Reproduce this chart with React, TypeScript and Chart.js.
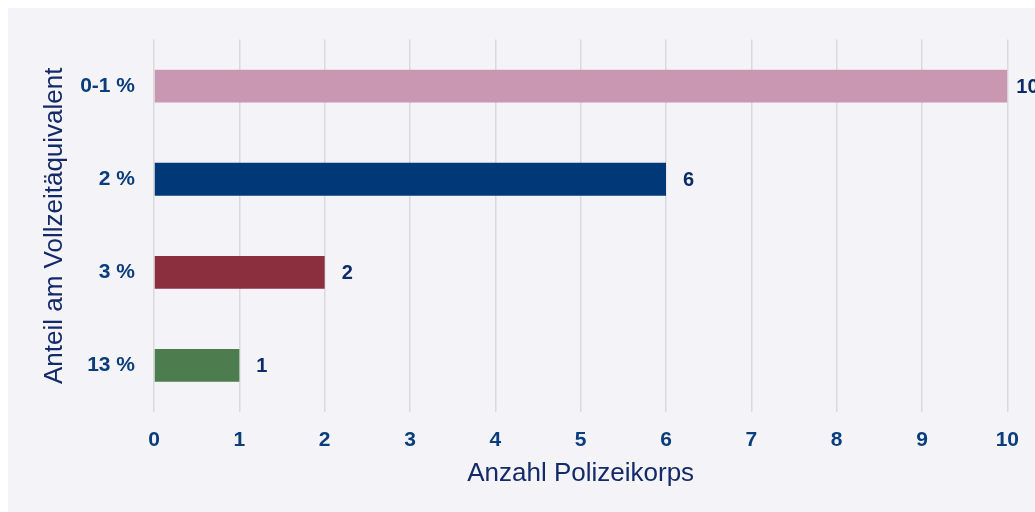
import React, { useEffect, useRef } from "react";
import { Chart, registerables } from "chart.js";

Chart.register(...registerables);

const categories = ["0-1 %", "2 %", "3 %", "13 %"];
const values = [10, 6, 2, 1];
const barColors = ["#c997b1", "#003878", "#8b2e3e", "#4d7c4e"];
const xTicks = [0, 1, 2, 3, 4, 5, 6, 7, 8, 9, 10];
const xTitle = "Anzahl Polizeikorps";
const yTitle = "Anteil am Vollzeitäquivalent";

const FONT = "'Liberation Sans', Arial, Helvetica, sans-serif";
const TICK_COLOR = "#0a3d7e";
const TITLE_COLOR = "#14296a";
const LABEL_COLOR = "#0d2b6b";

const valueLabels = {
  id: "valueLabels",
  afterDatasetsDraw(chart: any) {
    const ctx = chart.ctx;
    const meta = chart.getDatasetMeta(0);
    const right = chart.chartArea.right;
    ctx.save();
    ctx.font = `bold 20px ${FONT}`;
    ctx.fillStyle = LABEL_COLOR;
    ctx.textAlign = "left";
    ctx.textBaseline = "middle";
    meta.data.forEach((el: any, i: number) => {
      const x = Math.min(el.x + 17, right + 9);
      ctx.fillText(String(values[i]), x, el.y + 1);
    });
    ctx.restore();
  },
};

export default function App() {
  const ref = useRef<HTMLCanvasElement | null>(null);
  useEffect(() => {
    document.body.style.overflow = "hidden";
    const chart = new Chart(ref.current as HTMLCanvasElement, {
      type: "bar",
      data: {
        labels: categories,
        datasets: [
          {
            data: values,
            backgroundColor: barColors,
            borderWidth: 0,
            barPercentage: 0.352,
            categoryPercentage: 1,
          },
        ],
      },
      options: {
        indexAxis: "y",
        responsive: false,
        animation: false,
        layout: { padding: { top: 30, right: 26, left: 0, bottom: 0 } },
        plugins: {
          legend: { display: false },
          tooltip: { enabled: false },
        },
        scales: {
          x: {
            min: 0,
            max: 10,
            afterBuildTicks(scale: any) {
              scale.ticks = xTicks.map((v) => ({ value: v }));
            },
            afterFit(scale: any) {
              scale.height = 100;
            },
            grid: { color: "#dadada", lineWidth: 1.5, drawTicks: false },
            border: { display: false },
            ticks: {
              padding: 16,
              color: TICK_COLOR,
              font: { family: FONT, size: 21, weight: "bold" },
            },
            title: {
              display: true,
              text: xTitle,
              color: TITLE_COLOR,
              font: { family: FONT, size: 26, weight: "normal" },
              padding: { top: 0, bottom: 23 },
            },
          },
          y: {
            afterFit(scale: any) {
              scale.width = 146;
            },
            grid: { display: false, drawTicks: false },
            border: { display: false },
            ticks: {
              padding: 19,
              color: TICK_COLOR,
              font: { family: FONT, size: 21, weight: "bold" },
            },
            title: {
              display: true,
              text: yTitle,
              color: TITLE_COLOR,
              font: { family: FONT, size: 26, weight: "normal" },
              padding: { top: 31, bottom: 0 },
            },
          },
        },
      } as any,
      plugins: [valueLabels],
    });
    return () => chart.destroy();
  }, []);
  return (
    <div style={{ position: "fixed", left: 8, top: 8, width: 1027, height: 504 }}>
      <canvas
        ref={ref}
        width={1027}
        height={504}
        style={{ display: "block", width: 1027, height: 504, background: "#f4f4f8" }}
      />
    </div>
  );
}
